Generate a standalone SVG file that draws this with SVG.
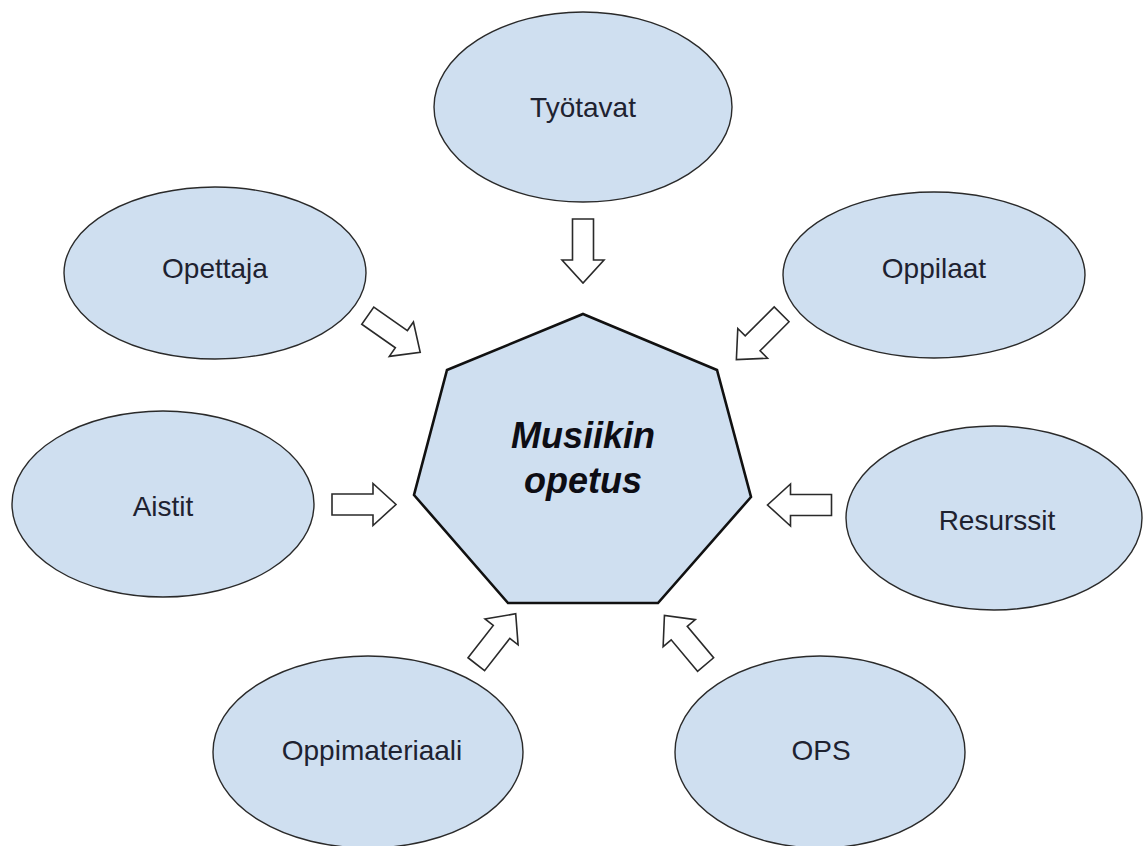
<svg xmlns="http://www.w3.org/2000/svg" width="1145" height="846" viewBox="0 0 1145 846">
<style>
.node ellipse{fill:#cfdff0;stroke:#2a2a2a;stroke-width:1.4}
.lbl{font-family:"Liberation Sans",Arial,sans-serif;font-size:28px;fill:#1e2230;text-anchor:middle}
.center{fill:#cfdff0;stroke:#111;stroke-width:2.6;stroke-linejoin:miter}
.ctext{font-family:"Liberation Sans",Arial,sans-serif;font-size:36px;font-weight:bold;font-style:italic;fill:#0d0d14;text-anchor:middle}
.arrow{fill:#fff;stroke:#2a2a2a;stroke-width:1.6;stroke-linejoin:miter}
</style>
<defs>
<path id="barrow" d="M-32,-10.5 L9,-10.5 L9,-21 L32,0 L9,21 L9,10.5 L-32,10.5 Z"/>
</defs>
<rect width="1145" height="846" fill="#fff"/>
<g id="tyotavat" class="node"><ellipse cx="583" cy="107" rx="149" ry="95"/><text class="lbl" x="583" y="117">Työtavat</text></g>
<g id="opettaja" class="node"><ellipse cx="215" cy="273" rx="151" ry="86"/><text class="lbl" x="215" y="278">Opettaja</text></g>
<g id="oppilaat" class="node"><ellipse cx="934" cy="275" rx="151" ry="83"/><text class="lbl" x="934" y="278">Oppilaat</text></g>
<g id="aistit" class="node"><ellipse cx="163" cy="504" rx="151" ry="93"/><text class="lbl" x="163" y="516">Aistit</text></g>
<g id="resurssit" class="node"><ellipse cx="994" cy="518" rx="148" ry="92"/><text class="lbl" x="997" y="530">Resurssit</text></g>
<g id="oppimateriaali" class="node"><ellipse cx="368" cy="752" rx="155" ry="96"/><text class="lbl" x="372" y="760">Oppimateriaali</text></g>
<g id="ops" class="node"><ellipse cx="820" cy="752" rx="145" ry="96"/><text class="lbl" x="821" y="760">OPS</text></g>
<g id="musiikin-opetus">
<polygon class="center" points="583,314 717,370 751,497 658,603 508,603 414,495 447,370"/>
<text class="ctext" x="583" y="448">Musiikin</text>
<text class="ctext" x="583" y="493">opetus</text>
</g>
<g id="connectors">
<use href="#barrow" class="arrow" transform="translate(583,251) rotate(90)"/>
<use href="#barrow" class="arrow" transform="translate(394,334) rotate(35)"/>
<use href="#barrow" class="arrow" transform="translate(759,337) rotate(135)"/>
<use href="#barrow" class="arrow" transform="translate(364,504.5)"/>
<use href="#barrow" class="arrow" transform="translate(799.5,505) rotate(180)"/>
<use href="#barrow" class="arrow" transform="translate(496,639) rotate(-52)"/>
<use href="#barrow" class="arrow" transform="translate(685,640) rotate(-130)"/>
</g>
</svg>
